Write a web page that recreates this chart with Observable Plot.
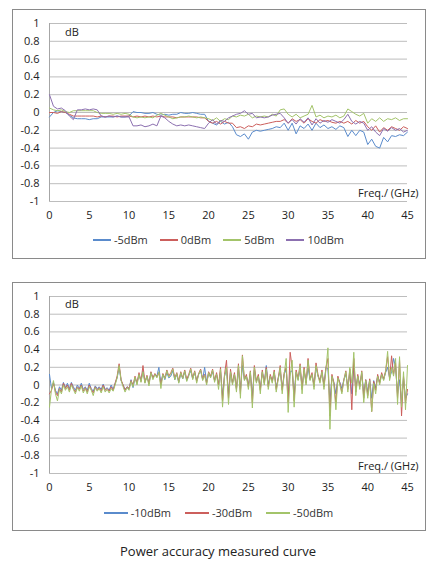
<!DOCTYPE html>
<html><head><meta charset="utf-8">
<script src="https://cdn.jsdelivr.net/npm/d3@7"></script>
<script src="https://cdn.jsdelivr.net/npm/@observablehq/plot@0.6"></script>
<style>
body{margin:0;background:#fff;font-family:"Open Sans",sans-serif;}
#wrap{position:relative;width:436px;height:567px;overflow:hidden;background:#fff;}
.box{position:absolute;border:1px solid #8a8a8a;box-sizing:border-box;}
.chart{position:absolute;left:0;}
.lbl{position:absolute;font-size:11px;color:#222;line-height:12px;white-space:nowrap;}
.legend{position:absolute;left:12px;width:413px;display:flex;justify-content:center;font-size:11px;color:#333;line-height:14px;}
.item{display:flex;align-items:center;}
.sw{display:inline-block;height:1.5px;margin-right:3px;}
#caption{position:absolute;left:0;width:436px;text-align:center;font-size:13px;top:542px;color:#222;}
</style></head>
<body>
<div id="wrap"></div>
<script>
// ---------- data ----------
const xTicks = [0, 5, 10, 15, 20, 25, 30, 35, 40, 45];
const yTicks = [-1, -0.8, -0.6, -0.4, -0.2, 0, 0.2, 0.4, 0.6, 0.8, 1];

// Chart 1: step 0.5 GHz, 0..45
const step1 = 0.5;
const names1 = ["-5dBm", "0dBm", "5dBm", "10dBm"];
const colors1 = ["#5a8bcc", "#cc5f5c", "#a3c46a", "#8c70b0"];
const m5 = [-0.05,0.0,0.02,0.01,0.0,-0.03,-0.06,-0.07,-0.07,-0.07,-0.08,-0.07,-0.07,-0.05,-0.05,-0.05,-0.05,-0.04,-0.05,-0.05,
  -0.04,0.01,0.0,0.0,-0.01,-0.01,0.0,-0.02,-0.03,-0.02,-0.03,-0.02,-0.02,0.0,-0.01,-0.01,0.0,-0.01,-0.02,-0.02,
  -0.1,-0.12,-0.14,-0.1,-0.13,-0.11,-0.16,-0.25,-0.27,-0.24,-0.3,-0.22,-0.2,-0.21,-0.2,-0.19,-0.18,-0.16,-0.17,-0.12,
  -0.2,-0.12,-0.24,-0.15,-0.18,-0.13,-0.2,-0.12,-0.17,-0.14,-0.18,-0.16,-0.19,-0.15,-0.17,-0.27,-0.2,-0.26,-0.2,-0.22,
  -0.36,-0.3,-0.38,-0.4,-0.28,-0.33,-0.26,-0.27,-0.25,-0.26,-0.22];
const p0 = [0.0,0.0,-0.01,0.01,0.0,-0.02,-0.04,-0.04,-0.04,-0.04,-0.04,-0.04,-0.05,-0.04,-0.05,-0.04,-0.04,-0.05,-0.04,-0.04,
  -0.04,-0.05,-0.04,-0.05,-0.04,-0.05,-0.04,-0.05,-0.04,-0.05,-0.05,-0.05,-0.06,-0.05,-0.05,-0.05,-0.05,-0.05,-0.06,-0.06,
  -0.1,-0.12,-0.1,-0.13,-0.1,-0.12,-0.12,-0.17,-0.16,-0.18,-0.15,-0.16,-0.13,-0.14,-0.13,-0.12,-0.11,-0.1,-0.1,-0.08,
  -0.12,-0.07,-0.1,-0.08,-0.12,-0.07,-0.1,-0.12,-0.08,-0.1,-0.09,-0.11,-0.12,-0.1,-0.12,-0.1,-0.13,-0.09,-0.12,-0.1,
  -0.16,-0.2,-0.15,-0.22,-0.17,-0.2,-0.16,-0.18,-0.2,-0.16,-0.18];
const p5 = [0.05,0.03,0.02,0.03,0.01,0.0,0.02,0.02,0.02,0.02,0.02,0.02,0.0,-0.01,-0.01,-0.01,-0.02,-0.01,-0.02,-0.01,
  -0.02,-0.05,-0.06,-0.05,-0.06,-0.05,-0.06,-0.03,-0.01,-0.03,-0.05,-0.07,-0.06,-0.05,-0.05,-0.04,-0.05,-0.06,-0.05,-0.06,
  -0.07,-0.09,-0.06,-0.1,-0.07,-0.08,-0.04,-0.05,-0.03,-0.04,-0.02,-0.06,-0.04,-0.05,-0.04,-0.05,-0.02,-0.04,0.03,0.04,
  -0.02,-0.05,-0.02,-0.06,-0.04,-0.02,0.08,-0.05,-0.03,-0.06,-0.04,-0.05,-0.03,-0.06,-0.04,0.04,0.01,-0.02,-0.04,-0.01,
  -0.12,-0.07,-0.1,-0.06,-0.1,-0.07,-0.08,-0.06,-0.09,-0.07,-0.07];
const p10 = [0.2,0.07,0.04,0.05,0.02,-0.04,-0.08,0.03,0.03,0.04,0.03,0.04,0.03,-0.04,-0.05,-0.04,-0.05,-0.04,-0.05,-0.05,
  -0.05,-0.15,-0.15,-0.14,-0.16,-0.15,-0.13,-0.15,-0.04,-0.06,-0.1,-0.13,-0.15,-0.14,-0.15,-0.14,-0.15,-0.16,-0.17,-0.18,
  -0.12,-0.08,-0.13,-0.09,-0.1,-0.06,-0.04,-0.02,-0.01,0.02,-0.02,-0.01,-0.06,-0.05,-0.06,-0.05,-0.03,-0.02,-0.01,-0.06,
  -0.12,-0.08,-0.13,-0.07,-0.11,-0.06,-0.14,-0.07,-0.12,-0.09,-0.11,-0.08,-0.1,-0.12,-0.08,-0.02,-0.1,-0.13,-0.1,-0.12,
  -0.2,-0.16,-0.22,-0.26,-0.18,-0.21,-0.17,-0.2,-0.18,-0.22,-0.2];

// Chart 2: step 0.25 GHz, 0..45
const step2 = 0.25;
const names2 = ["-10dBm", "-30dBm", "-50dBm"];
const colors2 = ["#5a8bcc", "#cc5f5c", "#a3c46a"];
const m10 = [0.12,-0.04,0.03,-0.06,-0.1,-0.02,-0.06,0.03,-0.03,
  0.02,-0.04,0.03,-0.02,-0.06,0.0,-0.04,0.02,
  -0.05,-0.02,-0.06,0.02,-0.04,-0.07,-0.01,-0.04,
  -0.02,-0.05,0.01,-0.05,-0.03,-0.06,0.0,-0.05,
  0.02,0.08,0.2,0.05,0.0,-0.05,-0.02,-0.04,
  0.06,-0.03,0.08,0.02,0.12,0.05,0.16,0.03,
  0.1,0.02,0.14,0.08,0.12,0.1,0.2,0.02,
  0.12,0.06,0.14,0.08,0.1,0.16,0.06,0.12,
  0.03,0.13,0.07,0.15,0.05,0.11,0.16,0.07,
  0.14,0.05,0.12,0.16,0.06,0.2,0.03,0.13,
  0.09,0.15,0.05,0.12,0.0,0.15,-0.12,0.1,
  0.18,-0.1,0.14,0.02,0.12,-0.04,0.18,-0.06,
  0.22,0.06,0.1,0.0,0.13,-0.12,0.17,0.04,
  0.1,-0.04,0.14,0.03,0.22,0.0,0.1,0.05,
  0.14,-0.03,0.08,0.16,-0.04,0.12,0.18,-0.12,
  0.15,0.16,-0.1,0.14,0.06,0.18,-0.02,0.16,
  0.03,0.2,0.06,0.12,0.0,0.2,0.1,0.05,
  0.14,0.0,0.2,0.18,-0.2,0.1,0.03,-0.1,
  0.08,0.03,-0.04,0.06,0.12,-0.02,0.14,-0.1,
  0.2,-0.04,0.1,0.0,0.13,-0.1,0.06,-0.08,
  0.06,-0.15,0.05,-0.03,0.1,0.03,0.12,0.06,
  0.14,0.2,0.08,0.15,0.3,0.2,-0.1,0.06,
  -0.2,0.08,-0.15,-0.1];
const m30 = [-0.1,-0.06,0.02,-0.08,-0.12,-0.04,-0.08,0.02,-0.04,
  0.0,-0.06,0.02,-0.04,-0.08,-0.02,-0.05,0.0,
  -0.07,-0.03,-0.08,0.0,-0.05,-0.09,-0.02,-0.06,
  -0.03,-0.07,0.0,-0.06,-0.04,-0.07,-0.02,-0.06,
  0.02,0.1,0.24,0.06,0.0,-0.06,-0.02,-0.04,
  0.05,0.0,0.1,0.02,0.14,0.04,0.22,0.03,
  0.11,0.01,0.15,0.08,0.13,0.09,0.14,0.0,
  0.13,0.08,0.17,0.1,0.14,0.19,0.08,0.14,
  0.04,0.15,0.08,0.17,0.06,0.12,0.19,0.08,
  0.16,0.04,0.13,0.18,0.07,0.12,0.02,0.15,
  0.1,0.18,0.05,0.14,0.0,0.2,-0.18,0.12,
  0.28,-0.15,0.18,0.02,0.14,-0.05,0.24,-0.1,
  0.34,0.06,0.12,-0.02,0.16,-0.2,0.22,0.04,
  0.12,-0.06,0.17,0.02,0.2,-0.02,0.12,0.04,
  0.17,-0.05,0.08,0.22,-0.06,0.14,0.2,-0.2,
  0.37,0.2,-0.18,0.17,0.07,0.24,-0.05,0.2,
  0.02,0.3,0.07,0.14,-0.02,0.25,0.12,0.04,
  0.17,-0.02,0.2,0.3,-0.35,0.12,0.02,-0.2,
  0.1,0.02,-0.08,0.06,0.16,-0.05,0.18,-0.28,
  0.3,-0.08,0.12,-0.02,0.16,-0.15,0.06,-0.12,
  0.07,-0.3,0.04,-0.06,0.12,0.02,0.14,0.07,
  0.16,0.32,0.07,0.33,0.12,0.25,-0.15,0.28,
  -0.35,0.1,-0.2,-0.05];
const m50 = [-0.25,-0.05,0.05,-0.1,-0.18,-0.05,-0.1,0.0,-0.06,
  -0.02,-0.08,0.0,-0.05,-0.1,-0.03,-0.07,-0.01,
  -0.09,-0.04,-0.1,-0.02,-0.06,-0.12,-0.03,-0.07,
  -0.04,-0.09,-0.02,-0.08,-0.05,-0.09,-0.04,-0.07,
  0.0,0.08,0.22,0.05,-0.02,-0.08,-0.03,-0.06,
  0.04,-0.02,0.09,0.0,0.12,0.03,0.15,0.02,
  0.1,-0.01,0.14,0.06,0.12,0.08,0.15,-0.04,
  0.12,0.07,0.16,0.09,0.12,0.18,0.06,0.13,
  0.02,0.14,0.07,0.16,0.04,0.1,0.18,0.06,
  0.15,0.02,0.12,0.17,0.05,0.11,0.0,0.14,
  0.08,0.17,0.03,0.12,-0.05,0.18,-0.25,0.1,
  0.2,-0.22,0.15,0.0,0.12,-0.08,0.22,-0.15,
  0.33,0.05,0.1,-0.05,0.15,-0.26,0.2,0.02,
  0.1,-0.1,0.15,0.0,0.18,-0.05,0.1,0.02,
  0.15,-0.08,0.06,0.2,-0.1,0.12,0.3,-0.31,
  0.1,0.28,-0.25,0.15,0.05,0.22,-0.1,0.18,
  0.0,0.28,0.05,0.12,-0.05,0.22,0.1,0.02,
  0.15,-0.05,0.18,0.42,-0.5,0.1,0.0,-0.28,
  0.08,0.0,-0.1,0.05,0.15,-0.08,0.2,0.02,
  0.37,-0.12,0.1,-0.05,0.15,-0.2,0.05,-0.15,
  0.05,-0.3,0.02,-0.1,0.1,0.0,0.12,0.05,
  0.15,0.38,0.05,0.2,0.1,0.3,-0.22,0.32,
  -0.25,0.15,-0.28,0.22];

const yLabel = "dB";
const xLabel = "Freq./ (GHz)";
const caption = "Power accuracy measured curve";

// ---------- drawing ----------
const wrap = document.getElementById("wrap");

function makeChart(series, names, colors, step, mt, mb) {
  const rows = [];
  series.forEach((vals, k) => vals.forEach((v, i) => rows.push({f: i * step, v, s: names[k]})));
  return Plot.plot({
    width: 436, height: 260,
    marginLeft: 49, marginRight: 29, marginTop: mt, marginBottom: mb,
    style: {fontFamily: "'Open Sans', sans-serif", fontSize: "11px", color: "#222", background: "transparent", overflow: "visible"},
    x: {domain: [0, 45]},
    y: {domain: [-1, 1]},
    color: {domain: names, range: colors},
    marks: [
      Plot.gridY(yTicks, {stroke: "#bdbdbd", strokeOpacity: 1, strokeWidth: 1}),
      Plot.ruleX([0], {stroke: "#a6a6a6", strokeWidth: 1}),
      Plot.line(rows, {x: "f", y: "v", z: "s", stroke: "s", strokeWidth: 1, strokeLinejoin: "miter"}),
      Plot.axisX(xTicks, {tickSize: 0, tickPadding: 10, label: null, fill: "#222"}),
      Plot.axisY(yTicks, {tickSize: 0, tickPadding: 10, label: null, fill: "#222",
        tickFormat: d => String(Math.round(d * 10) / 10)})
    ]
  });
}

function addBox(l, t, w, h) {
  const b = document.createElement("div");
  b.className = "box";
  Object.assign(b.style, {left: l + "px", top: t + "px", width: w + "px", height: h + "px"});
  wrap.appendChild(b);
}
function addLabel(text, l, t) {
  const d = document.createElement("div");
  d.className = "lbl";
  d.textContent = text;
  Object.assign(d.style, {left: l + "px", top: t + "px"});
  wrap.appendChild(d);
}
function addLegend(names, colors, top, sw, gap) {
  const lg = document.createElement("div");
  lg.className = "legend";
  lg.style.top = top + "px";
  lg.style.gap = gap + "px";
  names.forEach((n, i) => {
    const it = document.createElement("span");
    it.className = "item";
    const s = document.createElement("span");
    s.className = "sw";
    s.style.width = sw + "px";
    s.style.background = colors[i];
    it.appendChild(s);
    it.appendChild(document.createTextNode(n));
    lg.appendChild(it);
  });
  wrap.appendChild(lg);
}

// chart 1
addBox(12, 9, 414, 250);
const c1 = makeChart([m5, p0, p5, p10], names1, colors1, step1, 23, 59);
c1.classList.add("chart");
c1.style.top = "0px";
wrap.appendChild(c1);
addLabel(yLabel, 65, 26);
addLabel(xLabel, 358, 187);
addLegend(names1, colors1, 233, 18, 12);

// chart 2
addBox(12, 282, 414, 249);
const c2 = makeChart([m10, m30, m50], names2, colors2, step2, 26, 57);
c2.classList.add("chart");
c2.style.top = "270px";
wrap.appendChild(c2);
addLabel(yLabel, 65, 298);
addLabel(xLabel, 358, 460);
addLegend(names2, colors2, 506, 24, 14);

const cap = document.createElement("div");
cap.id = "caption";
cap.textContent = caption;
wrap.appendChild(cap);
</script>
</body></html>
